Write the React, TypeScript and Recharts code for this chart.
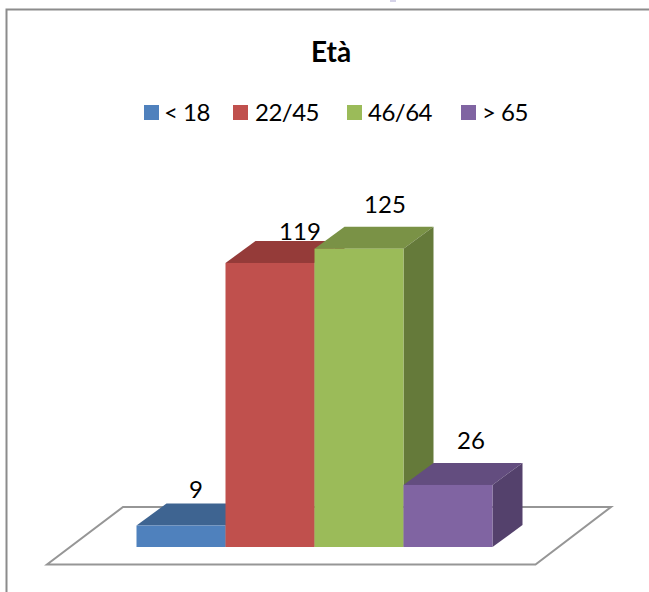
import React from "react";
import { BarChart, Bar, XAxis, YAxis, LabelList } from "recharts";

const title = "Età";
const categories = ["Età"];
const seriesNames = ["< 18", "22/45", "46/64", "> 65"];
const seriesValues = [9, 119, 125, 26];
const frontColors = ["#4F81BD", "#C0504D", "#9BBB59", "#8064A2"];
const topColors = ["#3E6491", "#953B39", "#7A9246", "#634D7F"];
const sideColors = ["#355680", "#7F3230", "#657A3A", "#54416C"];
const labelShift = [15, 30, 26, 23];
const labelLift = [15, 10, 23, 23];
const legendSwatchLeft = [144, 233, 347, 461];
const legendTextLeft = [164, 255, 368, 482];

const W = 649;
const H = 592;
const DX = 30;
const DY = 22;
const FONT = "Lato, 'Open Sans', sans-serif";

const rows = categories.map((c) => {
  const row: Record<string, string | number> = { category: c };
  seriesNames.forEach((n, i) => {
    row[n] = seriesValues[i];
  });
  return row;
});

const Box3D = (i: number) => (p: any) => {
  const { x, y, width, height } = p;
  const r = x + width;
  const b = y + height;
  return (
    <g>
      <polygon points={`${x},${y} ${r},${y} ${r + DX},${y - DY} ${x + DX},${y - DY}`} fill={topColors[i]} />
      <polygon points={`${r},${y} ${r + DX},${y - DY} ${r + DX},${b - DY} ${r},${b}`} fill={sideColors[i]} />
      <rect x={x} y={y} width={width} height={height} fill={frontColors[i]} />
    </g>
  );
};

const BarLabel = (i: number) => (p: any) => {
  const { x, y, width, value } = p;
  return (
    <text
      x={x + width / 2 + labelShift[i]}
      y={y - DY - labelLift[i]}
      textAnchor="middle"
      dominantBaseline="central"
      fontFamily={FONT}
      fontSize={24}
      fill="#000"
    >
      {value}
    </text>
  );
};

export default function App() {
  return (
    <div style={{ position: "absolute", left: 0, top: 0, width: W, height: H, background: "#fff", overflow: "hidden" }}>
      <svg width={W} height={H} style={{ position: "absolute", left: 0, top: 0 }}>
        <rect x={390} y={0} width={6} height={2} fill="#D5D3E8" />
        <polyline points={`6.5,${H} 6.5,9.5 ${W},9.5`} fill="none" stroke="#8C8C8C" strokeWidth={2} />
        <polygon points="123,507 611,507 535.5,564.5 47,564.5" fill="#fff" stroke="#969696" strokeWidth={2} />
      </svg>
      <div
        style={{
          position: "absolute",
          left: 311,
          width: 40,
          top: 33,
          textAlign: "center",
          fontFamily: FONT,
          fontWeight: 700,
          fontSize: 28,
          lineHeight: "36px",
          color: "#000",
          whiteSpace: "nowrap",
        }}
      >
        {title}
      </div>
      {seriesNames.map((n, i) => (
        <React.Fragment key={n}>
          <div style={{ position: "absolute", left: legendSwatchLeft[i], top: 105, width: 15, height: 15, background: frontColors[i] }} />
          <div
            style={{
              position: "absolute",
              left: legendTextLeft[i],
              top: 96,
              fontFamily: FONT,
              fontSize: 24,
              letterSpacing: "-0.5px",
              lineHeight: "32px",
              color: "#000",
              whiteSpace: "nowrap",
            }}
          >
            {n}
          </div>
        </React.Fragment>
      ))}
      <div style={{ position: "absolute", left: 0, top: 0 }}>
        <BarChart
          width={W}
          height={H}
          data={rows}
          margin={{ top: 189, right: W - 492, bottom: 45, left: 136.5 }}
          barCategoryGap={0}
          barGap={0}
        >
          <XAxis dataKey="category" hide />
          <YAxis hide domain={[0, 150]} />
          {seriesNames.map((n, i) => (
            <Bar key={n} dataKey={n} isAnimationActive={false} shape={Box3D(i)}>
              <LabelList dataKey={n} content={BarLabel(i)} />
            </Bar>
          ))}
        </BarChart>
      </div>
    </div>
  );
}
